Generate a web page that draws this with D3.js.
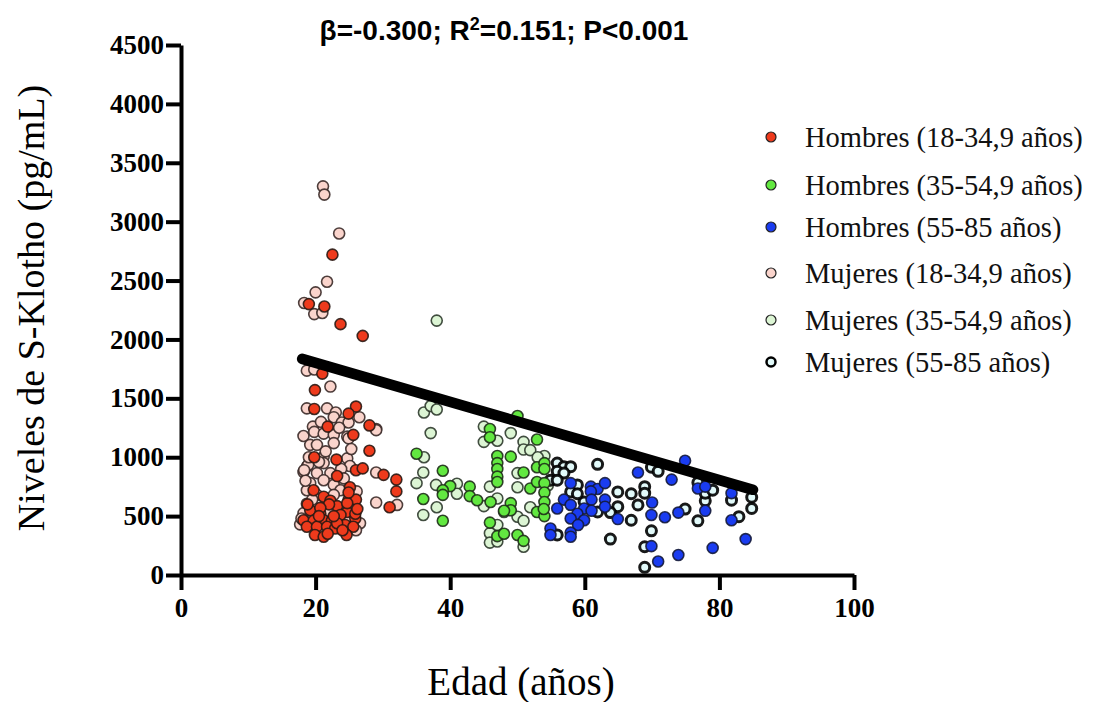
<!DOCTYPE html>
<html><head><meta charset="utf-8">
<script src="https://cdn.jsdelivr.net/npm/d3@7"></script>
<style>body{margin:0;background:#fff}svg{display:block}</style>
</head><body>
<svg id="chart" width="1094" height="702"></svg>
<script>
// ---- Data (age in years, S-Klotho pg/mL) ----
const hombres18 = [[22.5,2720],[23.7,2130],[27.0,2030],[19.0,2300],[21.3,2280],[21.0,1710],[19.9,1570],[19.8,1410],[26.0,1430],[24.9,1370],[28.0,1270],[21.8,1260],[25.6,1190],[28.0,1055],[19.8,1000],[23.1,980],[26.0,890],[27.0,905],[30.1,850],[32.0,810],[32.0,710],[23.2,840],[25.1,745],[21.2,665],[22.2,630],[23.2,585],[24.9,640],[26.0,640],[31.0,575],[19.2,550],[20.7,520],[24.7,535],[18.2,465],[19.7,460],[21.2,465],[22.4,460],[23.7,510],[25.9,480],[18.7,410],[20.2,410],[21.7,410],[22.9,395],[24.4,425],[25.6,410],[19.9,340],[21.2,325],[24.6,340],[22.0,600],[20.7,570],[24.7,610],[19.7,720],[24.9,700],[21.8,350],[23.2,440],[25.9,520],[18.8,600],[20.5,500],[22.7,500],[24.0,380],[26.2,560]];
const hombres35 = [[50.0,1350],[45.9,1240],[45.9,1170],[52.9,1150],[35.0,1030],[38.9,885],[47.0,1010],[49.0,1005],[47.0,950],[47.0,900],[47.0,835],[47.0,790],[50.9,870],[52.9,915],[54.0,950],[54.0,900],[40.0,755],[38.9,720],[38.9,680],[42.9,750],[42.9,670],[44.0,635],[46.0,620],[36.0,645],[38.9,460],[49.0,610],[49.0,550],[48.0,545],[51.9,735],[52.9,790],[54.0,780],[54.0,700],[54.0,620],[52.9,535],[54.0,500],[45.9,445],[47.0,330],[48.0,350],[50.0,340],[50.9,290],[53.9,560]];
const hombres55 = [[74.9,970],[67.9,870],[72.9,810],[76.8,735],[77.9,750],[81.8,695],[57.9,780],[60.9,750],[61.9,730],[63.0,780],[60.9,710],[56.9,640],[61.0,640],[63.0,640],[55.9,565],[57.9,595],[59.9,565],[63.0,580],[61.0,545],[58.9,520],[57.9,480],[59.9,465],[64.9,475],[70.0,615],[69.9,510],[71.9,490],[73.9,530],[77.9,545],[81.8,465],[59.0,425],[54.9,395],[54.9,340],[57.9,360],[57.9,325],[69.9,245],[79.0,230],[83.9,305],[73.9,170],[70.9,115]];
const mujeres18 = [[21.1,3300],[21.3,3230],[23.5,2900],[21.7,2490],[20.0,2400],[18.3,2310],[19.8,2215],[21.0,2225],[18.7,1735],[19.8,1745],[22.2,1600],[18.7,1415],[21.7,1415],[23.0,1380],[22.7,1340],[23.9,1295],[24.9,1295],[29.0,1240],[19.6,1260],[18.2,1180],[19.8,1215],[21.2,1200],[22.7,1190],[24.7,1175],[22.7,1120],[19.2,1105],[20.2,1105],[24.9,1160],[29.0,1230],[21.2,1005],[24.7,990],[18.7,920],[21.2,950],[25.1,925],[29.0,870],[18.2,875],[20.2,865],[22.2,865],[19.2,780],[21.2,805],[22.7,765],[18.7,720],[23.7,720],[26.1,710],[20.2,680],[22.7,680],[18.7,605],[29.0,615],[32.1,595],[18.2,525],[26.6,440],[26.0,380],[17.7,430],[18.9,935],[18.3,890],[20.5,960],[23.8,900],[24.2,820],[19.5,640],[25.5,600],[22.0,540],[17.9,480],[21.5,1050],[20.8,1300],[23.5,1250],[19.0,1000],[26.5,1340],[25.3,1070],[18.5,800],[24.5,480]];
const mujeres35 = [[38.0,2160],[36.1,1380],[37.1,1435],[38.0,1405],[37.1,1205],[45.0,1260],[45.0,1130],[47.0,1140],[49.0,1205],[50.9,1130],[50.9,1065],[51.9,1060],[54.0,1010],[36.1,1000],[36.0,870],[35.0,780],[37.9,765],[41.0,775],[41.0,690],[38.0,575],[36.0,510],[45.9,750],[47.0,650],[50.0,865],[50.0,745],[45.0,585],[48.0,535],[50.0,495],[50.9,460],[51.9,575],[47.0,425],[45.9,355],[45.9,275],[47.0,285],[50.9,240],[53.0,1000],[54.5,760]];
const mujeres55 = [[61.9,940],[69.9,915],[70.9,880],[55.9,950],[56.9,920],[57.9,920],[55.9,880],[56.9,865],[54.9,805],[55.9,805],[58.9,765],[57.9,705],[64.9,705],[66.9,690],[68.9,750],[68.9,695],[67.9,595],[64.9,580],[59.9,620],[61.9,535],[63.8,530],[66.9,465],[74.9,560],[76.8,460],[77.9,630],[77.9,695],[76.8,785],[79.0,720],[81.8,635],[82.9,495],[84.8,660],[84.8,565],[69.9,375],[68.9,240],[63.8,305],[68.9,65],[55.9,340],[58.9,690]];

const seriesNames = ["Hombres (18-34,9 años)","Hombres (35-54,9 años)","Hombres (55-85 años)","Mujeres (18-34,9 años)","Mujeres (35-54,9 años)","Mujeres (55-85 años)"];
const seriesData = [hombres18, hombres35, hombres55, mujeres18, mujeres35, mujeres55];
const xTicks = [0,20,40,60,80,100];
const yTicks = [0,500,1000,1500,2000,2500,3000,3500,4000,4500];
const regAgeRange = [18, 85];
const regIntercept = 2134, regSlope = -16.6;

// ---- Styles ----
const fills = ["#ee3a1c","#62e840","#1a3cf0","#fad4cc","#dcf5d4","#e2fafa"];
const strokes = ["#2a1a14","#1e2e18","#141a3a","#3a2a28","#2e3a2c","#000"];
const strokeW = [1.6,1.6,1.6,1.6,1.6,3];
const serif = "'Liberation Serif','Times New Roman',serif";

const svg = d3.select("#chart");
const x = d3.scaleLinear().domain([0,100]).range([181,854]);
const y = d3.scaleLinear().domain([0,4500]).range([575,45]);

// axes
const yAxis = svg.append("g").attr("transform","translate(181,0)")
  .call(d3.axisLeft(y).tickValues(yTicks).tickSize(15).tickSizeOuter(0).tickPadding(2).tickFormat(d3.format("d")));
const xAxis = svg.append("g").attr("transform","translate(0,575)")
  .call(d3.axisBottom(x).tickValues(xTicks).tickSize(15).tickSizeOuter(0).tickPadding(8).tickFormat(d3.format("d")));
[yAxis,xAxis].forEach(a=>{
  a.select(".domain").attr("stroke","#000").attr("stroke-width",4);
  a.selectAll(".tick line").attr("stroke","#000").attr("stroke-width",4);
  a.selectAll(".tick text").attr("fill","#000").attr("font-family",serif)
   .attr("font-weight","bold").attr("font-size",27);
});

// points: women first, then men
const order = [3,4,5,0,1,2];
order.forEach(i=>{
  svg.append("g").selectAll("circle").data(seriesData[i]).join("circle")
    .attr("cx",d=>x(d[0])).attr("cy",d=>y(d[1])).attr("r",i===5?5:5.5)
    .attr("fill",fills[i]).attr("stroke",strokes[i]).attr("stroke-width",strokeW[i]).attr("stroke-opacity",0.9);
});

// regression line
svg.append("line")
  .attr("x1",x(regAgeRange[0])).attr("y1",y(regIntercept+regSlope*regAgeRange[0]))
  .attr("x2",x(regAgeRange[1])).attr("y2",y(regIntercept+regSlope*regAgeRange[1]))
  .attr("stroke","#000").attr("stroke-width",10.5).attr("stroke-linecap","round");

// title
svg.append("text").attr("x",504).attr("y",40).attr("text-anchor","middle")
  .attr("font-family","'Liberation Sans',Arial,sans-serif").attr("font-weight","bold").attr("font-size",28)
  .html('β=-0.300; R<tspan dy="-10" font-size="18">2</tspan><tspan dy="10">=0.151; P&lt;0.001</tspan>');

// axis titles
svg.append("text").attr("transform","translate(44,308) rotate(-90)").attr("text-anchor","middle")
  .attr("font-family",serif).attr("font-size",38).text("Niveles de S-Klotho (pg/mL)");
svg.append("text").attr("x",521).attr("y",695).attr("text-anchor","middle")
  .attr("font-family",serif).attr("font-size",39).text("Edad (años)");

// legend
const legY = [137,185,227,273,320,362];
const leg = svg.append("g");
seriesNames.forEach((n,i)=>{
  leg.append("circle").attr("cx",771).attr("cy",legY[i]).attr("r",i===5?4.5:5)
    .attr("fill",fills[i]).attr("stroke",i===5?"#000":"#222").attr("stroke-width",i===5?2.5:1.2);
  leg.append("text").attr("x",805).attr("y",legY[i]+10)
    .attr("font-family",serif).attr("font-size",28.5).attr("fill","#111").text(n);
});
</script>
</body></html>
